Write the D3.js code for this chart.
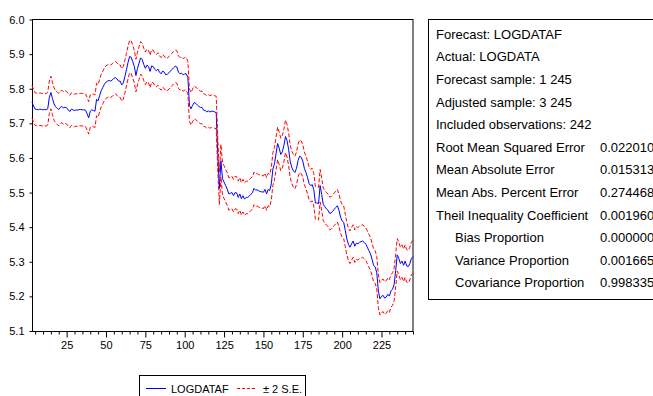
<!DOCTYPE html>
<html>
<head>
<meta charset="utf-8">
<script src="https://cdn.jsdelivr.net/npm/d3@7"></script>
<style>
  body { margin: 0; background: #fff; }
  svg { display: block; font-family: "Liberation Sans", Arial, sans-serif; }
</style>
</head>
<body>
<div class="box"></div>
<script>
// Observations 3..245 (adjusted sample), forecast
const firstObs = 3;
const forecast = [
  5.762, 5.750, 5.741, 5.740, 5.739, 5.741, 5.740, 5.739, 5.740, 5.739,
  5.742, 5.775, 5.789, 5.772, 5.756, 5.748, 5.743, 5.740, 5.746, 5.749,
  5.744, 5.747, 5.745, 5.739, 5.734, 5.741, 5.739, 5.737, 5.739, 5.738,
  5.740, 5.740, 5.739, 5.739, 5.738, 5.728, 5.716, 5.735, 5.739, 5.737,
  5.735, 5.769, 5.765, 5.781, 5.795, 5.804, 5.813, 5.819, 5.822, 5.824,
  5.822, 5.825, 5.830, 5.832, 5.828, 5.822, 5.822, 5.811, 5.817, 5.835,
  5.855, 5.876, 5.893, 5.891, 5.878, 5.864, 5.838, 5.858, 5.874, 5.889,
  5.884, 5.870, 5.859, 5.868, 5.864, 5.850, 5.866, 5.864, 5.856, 5.852,
  5.857, 5.848, 5.843, 5.851, 5.848, 5.840, 5.842, 5.846, 5.851, 5.856,
  5.861, 5.865, 5.863, 5.848, 5.843, 5.845, 5.840, 5.843, 5.843, 5.832,
  5.752, 5.742, 5.752, 5.760, 5.758, 5.753, 5.749, 5.746, 5.746, 5.738,
  5.737, 5.733, 5.736, 5.733, 5.735, 5.735, 5.733, 5.731, 5.610, 5.512,
  5.592, 5.540, 5.530, 5.520, 5.510, 5.496, 5.498, 5.500, 5.491, 5.500,
  5.499, 5.486, 5.496, 5.482, 5.491, 5.481, 5.486, 5.486, 5.490, 5.495,
  5.499, 5.512, 5.507, 5.508, 5.505, 5.503, 5.502, 5.501, 5.509, 5.496,
  5.509, 5.506, 5.525, 5.568, 5.583, 5.612, 5.642, 5.628, 5.610, 5.618,
  5.636, 5.662, 5.650, 5.625, 5.590, 5.573, 5.563, 5.558, 5.570, 5.593,
  5.605, 5.602, 5.591, 5.570, 5.558, 5.544, 5.526, 5.520, 5.523, 5.508,
  5.470, 5.470, 5.468, 5.520, 5.495, 5.466, 5.459, 5.453, 5.449, 5.440,
  5.441, 5.446, 5.452, 5.457, 5.462, 5.448, 5.429, 5.418, 5.414, 5.390,
  5.366, 5.350, 5.342, 5.352, 5.360, 5.345, 5.354, 5.352, 5.356, 5.358,
  5.360, 5.356, 5.351, 5.342, 5.332, 5.323, 5.307, 5.289, 5.285, 5.268,
  5.215, 5.193, 5.200, 5.203, 5.195, 5.198, 5.206, 5.201, 5.216, 5.221,
  5.234, 5.275, 5.320, 5.309, 5.295, 5.302, 5.290, 5.302, 5.288, 5.286,
  5.295, 5.310, 5.315
];
// two standard errors
const twoSE = 0.047;

const xTicks = [25, 50, 75, 100, 125, 150, 175, 200, 225];
const yTicks = [5.1, 5.2, 5.3, 5.4, 5.5, 5.6, 5.7, 5.8, 5.9, 6.0];

const statsLabels = [
  "Forecast: LOGDATAF", "Actual: LOGDATA", "Forecast sample: 1 245",
  "Adjusted sample: 3 245", "Included observations: 242",
  "Root Mean Squared Error", "Mean Absolute Error", "Mean Abs. Percent Error",
  "Theil Inequality Coefficient", "Bias Proportion", "Variance Proportion",
  "Covariance Proportion"
];
const statsValues = ["", "", "", "", "", "0.022010", "0.015313", "0.274468",
  "0.001960", "0.000000", "0.001665", "0.998335"];
const statsIndent = [0, 0, 0, 0, 0, 0, 0, 0, 0, 1, 1, 1];

const legendNames = ["LOGDATAF", "\u00b1 2 S.E."];

// svg box
const w = 653;
const h = 396;
const plotLeft = 32, plotRight = 413, plotTop = 19.5, plotBottom = 331;

const svg = d3.select(".box")
  .append("svg")
  .attr("width", w)
  .attr("height", h);

const data = forecast.map((v, i) => ({ obs: firstObs + i, f: v }));

const xScale = d3.scaleLinear()
  .domain([firstObs, firstObs + forecast.length - 1])
  .range([plotLeft, plotRight]);
const yScale = d3.scaleLinear()
  .domain([5.1, 6.0])
  .range([plotBottom, plotTop]);

// frame
svg.append("rect")
  .attr("x", plotLeft + 0.5)
  .attr("y", plotTop)
  .attr("width", plotRight - plotLeft - 0.5)
  .attr("height", plotBottom - plotTop + 0.5)
  .attr("fill", "none")
  .attr("stroke", "#000")
  .attr("stroke-width", 1);

// x axis: minor ticks every 5, labelled every 25
const minorTicks = d3.range(5, 246, 5).filter(d => d % 25 !== 0);
svg.append("g")
  .attr("transform", "translate(0," + (plotBottom + 0.5) + ")")
  .call(d3.axisBottom(xScale).tickValues(minorTicks).tickSize(3).tickFormat(""))
  .call(g => g.select(".domain").remove());

svg.append("g")
  .attr("transform", "translate(0," + (plotBottom + 0.5) + ")")
  .call(d3.axisBottom(xScale).tickValues(xTicks).tickSize(6).tickPadding(4))
  .call(g => g.select(".domain").remove())
  .call(g => g.selectAll("text").style("font-size", "11px").attr("fill", "#000")
    .style("font-family", "'Liberation Sans', Arial, sans-serif"));

// y axis
svg.append("g")
  .attr("transform", "translate(" + (plotLeft + 0.5) + ",0)")
  .call(d3.axisLeft(yScale).tickValues(yTicks).tickSize(3).tickPadding(5).tickFormat(d3.format(".1f")))
  .call(g => g.select(".domain").remove())
  .call(g => g.selectAll("text").style("font-size", "11px").attr("fill", "#000")
    .style("font-family", "'Liberation Sans', Arial, sans-serif"));

// lines
const line = d3.line()
  .x(d => xScale(d.obs))
  .y(d => yScale(d.v));

svg.append("path")
  .datum(data.map(d => ({ obs: d.obs, v: d.f })))
  .attr("d", line)
  .attr("fill", "none")
  .attr("stroke", "#0000ff")
  .attr("stroke-width", 1);

[twoSE, -twoSE].forEach(s => {
  svg.append("path")
    .datum(data.map(d => ({ obs: d.obs, v: d.f + s })))
    .attr("d", line)
    .attr("fill", "none")
    .attr("stroke", "#ff0000")
    .attr("stroke-width", 1)
    .attr("stroke-dasharray", "4,2");
});

// stats box
svg.append("rect")
  .attr("x", 428.5)
  .attr("y", 19.5)
  .attr("width", 260)
  .attr("height", 280)
  .attr("fill", "none")
  .attr("stroke", "#000");

const rows = svg.append("g").style("font-size", "13px");
statsLabels.forEach((t, i) => {
  const y = 38.8 + i * 22.6;
  rows.append("text")
    .attr("x", statsIndent[i] ? 455 : 436)
    .attr("y", y)
    .text(t);
  if (statsValues[i]) {
    rows.append("text")
      .attr("x", 600)
      .attr("y", y)
      .text(statsValues[i]);
  }
});

// legend
svg.append("rect")
  .attr("x", 139.5)
  .attr("y", 375.5)
  .attr("width", 166)
  .attr("height", 30)
  .attr("fill", "none")
  .attr("stroke", "#000");

svg.append("line")
  .attr("x1", 146).attr("x2", 166)
  .attr("y1", 388.5).attr("y2", 388.5)
  .attr("stroke", "#0000ff");
svg.append("text")
  .attr("x", 171).attr("y", 392.5)
  .style("font-size", "11px")
  .text(legendNames[0]);

svg.append("line")
  .attr("x1", 237).attr("x2", 257)
  .attr("y1", 388.5).attr("y2", 388.5)
  .attr("stroke", "#ff0000")
  .attr("stroke-dasharray", "3,2");
svg.append("text")
  .attr("x", 263).attr("y", 392.5)
  .style("font-size", "11px")
  .text(legendNames[1]);
</script>
</body>
</html>
